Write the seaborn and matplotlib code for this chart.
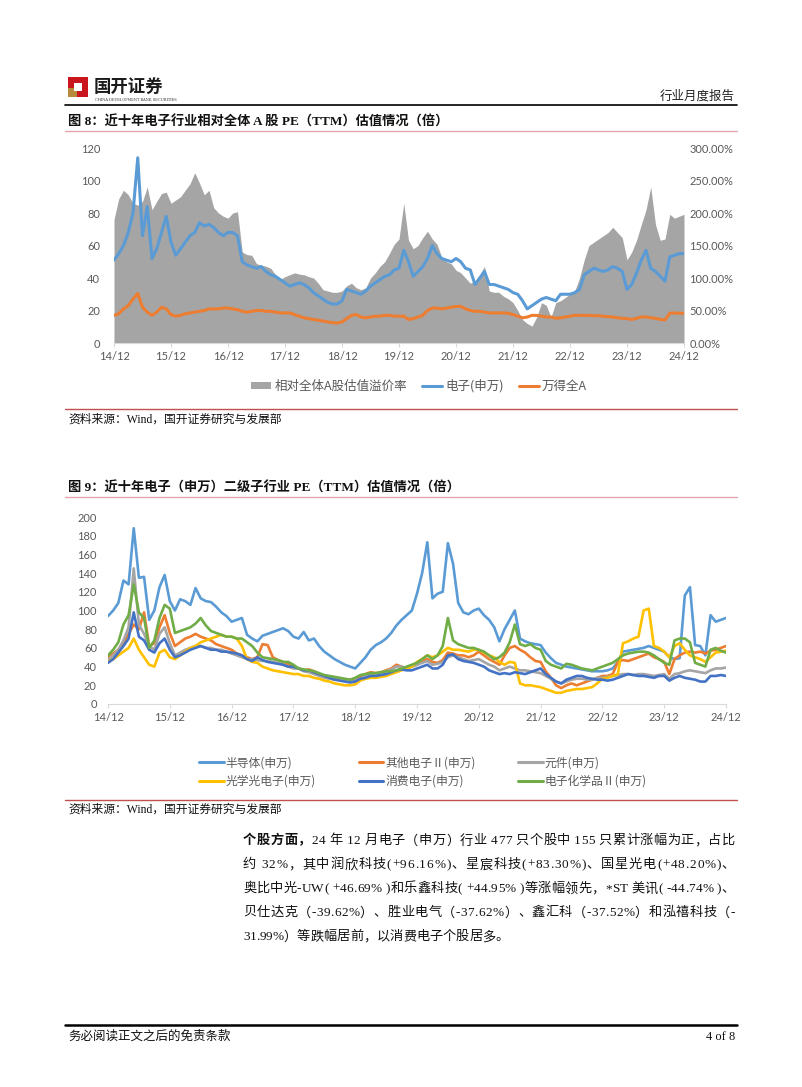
import numpy as np
import pandas as pd
import matplotlib
matplotlib.use("Agg")
import matplotlib.pyplot as plt
import seaborn as sns
from matplotlib.patches import Patch, Rectangle
from matplotlib.lines import Line2D
from matplotlib.font_manager import FontProperties

# ---------------- data (monthly, 2014-12 .. 2024-12) ----------------
x_tick_labels = ["14/12", "15/12", "16/12", "17/12", "18/12", "19/12",
                 "20/12", "21/12", "22/12", "23/12", "24/12"]

# Figure 8
electronic_pe = [51,
    55, 60, 68, 80, 114, 66, 84, 52, 58, 68, 78, 62,
    54, 58, 62, 66, 68, 74, 72, 73, 71, 68, 66, 68,
    68, 66, 50, 48, 47, 46, 47, 44, 42, 41, 39, 37,
    35, 36, 37, 36, 34, 31, 29, 27, 25, 24, 24, 26,
    33, 32, 31, 30, 32, 35, 37, 39, 41, 42, 45, 46,
    57, 50, 41, 44, 47, 52, 60, 55, 52, 51, 50, 52,
    50, 46, 45, 36, 40, 44, 36, 36, 35, 34, 33, 31,
    30, 26, 21, 23, 25, 27, 28, 27, 26, 30, 30, 30,
    31, 33, 42, 44, 46, 45, 44, 45, 47, 46, 44, 33,
    36, 43, 51, 57, 46, 44, 41, 38, 53, 54, 55, 55]

wind_all_a_pe = [17,
    18, 21, 23, 27, 30.5, 22, 19, 17, 19, 22, 21, 17.5,
    16.5, 17, 18, 18.5, 19, 19.5, 20, 21, 21, 21, 21.5, 21.5,
    21, 20.5, 19.5, 19, 19.5, 20, 20, 19.5, 19.5, 19, 18.5, 18.5,
    18.5, 17.5, 16.5, 15.5, 15, 14.5, 14, 13.5, 13, 12.5, 12.3, 13,
    15, 17, 17.5, 16, 15.5, 16, 16.5, 16.5, 17, 17, 16.5, 16.5,
    16.5, 14.5, 15, 16, 17, 20, 21.5, 21.5, 21, 21.5, 22, 22.5,
    22.5, 21, 20, 19.5, 19.5, 19, 18.5, 18.5, 18.5, 18.5, 18.3, 17.5,
    16.5, 15.5, 16, 17, 17, 16.5, 16, 16, 15.2, 15.5, 16, 16.5,
    17, 17, 17, 17, 16.8, 16.8, 16.5, 16.2, 16, 15.5, 15.2, 15,
    14.5, 15.2, 16, 16, 15.5, 15.2, 14.5, 14.2, 18.3, 18.5, 18.3, 18.3]

premium_pct = [190,
    222, 235, 228, 215, 212, 218, 240, 205, 218, 230, 232, 215,
    220, 225, 235, 245, 262, 246, 228, 235, 208, 200, 195, 192,
    200, 202, 140, 136, 135, 122, 120, 118, 115, 105, 98, 102,
    105, 108, 106, 105, 102, 100, 92, 82, 80, 78, 78, 80,
    88, 92, 85, 82, 85, 100, 108, 118, 125, 138, 152, 160,
    215, 158, 145, 150, 162, 172, 160, 152, 132, 125, 122, 112,
    108, 100, 92, 95, 105, 118, 80, 78, 78, 72, 68, 62,
    50, 36, 30, 26, 40, 62, 58, 40, 62, 65, 70, 75,
    80, 100, 128, 150, 155, 160, 165, 170, 178, 170, 162, 128,
    140, 158, 182, 205, 240, 182, 158, 160, 198, 192, 195, 198]

# Figure 9
semiconductor = [94,
    100, 108, 132, 128, 188, 135, 136, 90, 100, 125, 138, 110,
    100, 112, 110, 106, 124, 113, 110, 109, 104, 98, 94, 88,
    90, 92, 74, 70, 67, 73, 75, 77, 79, 81, 78, 72,
    70, 77, 68, 70, 62, 56, 52, 48, 45, 42, 40, 38,
    44, 50, 58, 63, 66, 70, 76, 84, 90, 95, 100, 118,
    140, 173, 113, 118, 120, 172, 150, 108, 98, 96, 100, 102,
    95, 90, 82, 67, 80, 90, 100, 70, 67, 65, 64, 63,
    55, 49, 44, 42, 40, 39, 38, 37, 36, 35, 35, 35,
    36, 38, 45, 56, 57, 58, 59, 60, 62, 60, 58, 56,
    50, 48, 49, 116, 125, 63, 62, 52, 95, 88, 90, 92]

other_electronics = [50,
    54, 58, 65, 75, 85, 80, 98, 62, 65, 82, 95, 76,
    62, 66, 70, 72, 75, 72, 70, 68, 64, 62, 60, 58,
    54, 52, 50, 48, 50, 64, 63, 50, 47, 45, 43, 41,
    38, 36, 37, 35, 32, 30, 29, 28, 27, 26, 26, 27,
    29, 32, 34, 33, 34, 36, 38, 42, 40, 38, 40, 42,
    46, 48, 45, 44, 47, 55, 54, 52, 52, 50, 52, 56,
    52, 48, 45, 42, 52, 60, 62, 58, 55, 50, 46, 45,
    35, 28, 20, 17, 20, 22, 20, 22, 24, 26, 28, 30,
    30, 32, 45, 47, 46, 48, 50, 52, 54, 50, 48, 45,
    32, 48, 52, 55, 56, 55, 56, 54, 57, 58, 60, 62]

components = [47,
    52, 58, 68, 82, 145, 85, 75, 62, 58, 75, 82, 65,
    52, 55, 58, 60, 62, 62, 60, 60, 58, 58, 56, 54,
    52, 50, 48, 48, 47, 46, 46, 45, 44, 42, 40, 38,
    38, 35, 34, 32, 30, 28, 27, 26, 26, 25, 24, 25,
    27, 30, 32, 32, 33, 35, 37, 40, 40, 38, 40, 42,
    44, 46, 42, 43, 45, 50, 52, 50, 48, 46, 47, 48,
    45, 42, 40, 36, 38, 40, 38, 36, 36, 35, 34, 33,
    30, 27, 24, 22, 24, 26, 27, 27, 26, 26, 28, 28,
    29, 30, 31, 32, 32, 31, 32, 32, 31, 30, 31, 32,
    27, 32, 33, 35, 36, 35, 34, 33, 36, 38, 38, 39]

optoelectronics = [45,
    48, 52, 56, 60, 70, 58, 50, 42, 40, 55, 58, 50,
    48, 52, 56, 60, 62, 66, 68, 70, 72, 74, 72, 72,
    70, 62, 48, 45, 44, 40, 38, 36, 35, 34, 33, 32,
    32, 30, 30, 28, 27, 25, 24, 22, 21, 20, 20, 21,
    25, 27, 28, 28, 29, 30, 32, 34, 36, 38, 40, 45,
    48, 52, 50, 52, 56, 60, 58, 58, 57, 56, 58, 58,
    55, 52, 50, 45, 42, 45, 44, 22, 20, 20, 19, 18,
    16, 14, 12, 12, 14, 15, 16, 16, 17, 18, 22, 27,
    28, 30, 32, 65, 67, 70, 72, 100, 102, 62, 60, 56,
    50, 62, 65, 58, 52, 50, 48, 45, 50, 55, 56, 57]

consumer_electronics = [44,
    48, 55, 62, 70, 98, 72, 68, 58, 55, 65, 70, 58,
    50, 52, 55, 58, 60, 62, 60, 58, 58, 56, 56, 55,
    54, 52, 48, 46, 50, 47, 45, 44, 43, 42, 40, 40,
    38, 36, 36, 34, 32, 30, 28, 26, 25, 24, 23, 24,
    27, 28, 30, 30, 31, 32, 34, 36, 37, 36, 36, 38,
    40, 42, 38, 38, 42, 52, 53, 48, 46, 45, 44, 42,
    40, 36, 34, 32, 33, 32, 34, 33, 32, 34, 36, 38,
    32, 28, 24, 22, 26, 28, 30, 30, 28, 27, 26, 26,
    25, 26, 28, 30, 32, 31, 30, 30, 29, 28, 30, 30,
    25, 28, 30, 28, 27, 26, 24, 24, 30, 30, 31, 30]

electronic_chemicals = [52,
    58, 66, 85, 95, 128, 98, 92, 60, 68, 92, 106, 102,
    76, 78, 80, 82, 86, 92, 84, 78, 76, 74, 72, 72,
    70, 70, 66, 62, 55, 50, 49, 48, 47, 45, 45, 42,
    38, 37, 36, 35, 33, 31, 30, 29, 28, 27, 26, 28,
    31, 32, 33, 33, 34, 35, 35, 36, 38, 40, 42, 44,
    48, 52, 48, 52, 62, 92, 68, 64, 62, 60, 60, 58,
    56, 52, 48, 50, 55, 66, 85, 64, 62, 64, 60, 58,
    46, 42, 40, 38, 43, 42, 40, 38, 37, 36, 38, 40,
    42, 44, 48, 52, 54, 55, 56, 56, 55, 52, 48, 44,
    42, 68, 70, 70, 66, 44, 42, 40, 58, 60, 57, 55]

sub_names = ["半导体(申万)", "其他电子Ⅱ(申万)", "元件(申万)",
             "光学光电子(申万)", "消费电子(申万)", "电子化学品Ⅱ(申万)"]
sub_series = [semiconductor, other_electronics, components,
              optoelectronics, consumer_electronics, electronic_chemicals]
sub_colors = ["#5B9BD5", "#ED7D31", "#A5A5A5", "#FFC000", "#4472C4", "#70AD47"]

for s in [electronic_pe, wind_all_a_pe, premium_pct] + sub_series:
    assert len(s) == 121, len(s)

months = list(range(121))

# ---------------- figure setup ----------------
sns.set_theme(style="white")
plt.rcParams["font.family"] = ["Lato", "Noto Sans CJK SC", "DejaVu Sans"]
plt.rcParams["axes.unicode_minus"] = False

W, H = 802, 1087
fig = plt.figure(figsize=(W / 100, H / 100), dpi=100)
fig.patch.set_facecolor("white")


def fx(p):
    return p / W


def fy(p):
    return 1 - p / H


CJK = ["Noto Sans CJK SC", "DejaVu Sans"]
BODY = ["Liberation Serif", "Noto Sans CJK SC"]
TICK_C = "#595959"


def hline(y, x0=65, x1=737, color="black", lw=1.0):
    fig.add_artist(Line2D([fx(x0), fx(x1)], [fy(y), fy(y)],
                          transform=fig.transFigure, color=color, lw=lw))


def style_axis(ax, ymax, ystep):
    ax.set_xlim(0, 120)
    ax.set_ylim(0, ymax)
    ax.set_xticks(range(0, 121, 12))
    ax.set_xticklabels(x_tick_labels)
    ax.set_yticks(np.arange(0, ymax + 1, ystep))
    for s in ["top", "right", "left"]:
        ax.spines[s].set_visible(False)
    ax.spines["bottom"].set_color("#D9D9D9")
    ax.spines["bottom"].set_linewidth(0.8)
    ax.tick_params(axis="x", bottom=True, length=3, width=0.8, color="#D9D9D9",
                   labelsize=8, labelcolor=TICK_C, pad=3)
    ax.tick_params(axis="y", left=False, length=0, labelsize=8,
                   labelcolor=TICK_C, pad=8)
    ax.grid(False)
    ax.set_xlabel("")
    ax.set_ylabel("")


# ---------------- header ----------------
fig.add_artist(Rectangle((fx(68), fy(97)), 20 / W, 20 / H, transform=fig.transFigure,
                         facecolor="#C9151E", edgecolor="none"))
fig.add_artist(Rectangle((fx(68), fy(97)), 9 / W, 9 / H, transform=fig.transFigure,
                         facecolor="#B88A3C", edgecolor="none"))
fig.add_artist(Rectangle((fx(74), fy(91)), 8 / W, 8 / H, transform=fig.transFigure,
                         facecolor="white", edgecolor="none"))
fig.text(fx(94), fy(87), "国开证券", family=CJK, fontsize=12.5, fontweight="bold",
         color="#1a1a1a", va="center", ha="left")
fig.text(fx(95), fy(100), "CHINA DEVELOPMENT BANK SECURITIES", family=["DejaVu Serif"],
         fontsize=2.6, color="#333333", va="center", ha="left")
fig.text(fx(735), fy(96), "行业月度报告", family=CJK, fontsize=9, color="#222222",
         va="center", ha="right")
hline(105, lw=1.2)

# ---------------- Figure 8 ----------------
fig.text(fx(68), fy(122), "图 8：近十年电子行业相对全体 A 股 PE（TTM）估值情况（倍）",
         family=BODY, fontsize=9.5, fontweight="bold", color="#111111", va="center")
hline(131, color="#E3A6AC", lw=1.0)

ax1 = fig.add_axes([fx(114), fy(343), 570 / W, 195 / H])
ax1r = ax1.twinx()
ax1r.fill_between(months, 0, premium_pct, color="#A5A5A5", lw=0)
ax1r.set_ylim(0, 300)
ax1r.set_yticks(range(0, 301, 50))
ax1r.set_yticklabels([f"{v:.2f}%" for v in range(0, 301, 50)])
for s in ax1r.spines.values():
    s.set_visible(False)
ax1r.tick_params(axis="y", right=False, length=0, labelsize=8, labelcolor=TICK_C, pad=4)
ax1r.grid(False)
ax1r.set_ylabel("")

df1 = pd.DataFrame({"m": months, "电子(申万)": electronic_pe, "万得全A": wind_all_a_pe})
sns.lineplot(data=df1, x="m", y="电子(申万)", color="#5B9BD5", lw=2.2, ax=ax1)
sns.lineplot(data=df1, x="m", y="万得全A", color="#ED7D31", lw=2.2, ax=ax1)
ax1.set_zorder(ax1r.get_zorder() + 1)
ax1.patch.set_visible(False)
style_axis(ax1, 120, 20)
ax1.tick_params(axis="y", pad=10)

h1 = [Patch(facecolor="#A5A5A5", edgecolor="none"),
      Line2D([], [], color="#5B9BD5", lw=2.2),
      Line2D([], [], color="#ED7D31", lw=2.2)]
fig.legend(h1, ["相对全体A股估值溢价率", "电子(申万)", "万得全A"], loc="center",
           bbox_to_anchor=(fx(419), fy(386)), ncol=3, frameon=False,
           prop=FontProperties(family=CJK, size=9), labelcolor=TICK_C,
           handlelength=1.6, handleheight=0.55, handletextpad=0.25, columnspacing=1.2)

hline(409, color="#C0504D", lw=1.0)
fig.text(fx(68), fy(420), "资料来源：Wind，国开证券研究与发展部", family=BODY,
         fontsize=8.5, color="#111111", va="center")

# ---------------- Figure 9 ----------------
fig.text(fx(68), fy(488), "图 9：近十年电子（申万）二级子行业 PE（TTM）估值情况（倍）",
         family=BODY, fontsize=9.5, fontweight="bold", color="#111111", va="center")
hline(497, color="#E3A6AC", lw=1.0)

ax2 = fig.add_axes([fx(108), fy(704), 618 / W, 187 / H])
df2 = pd.DataFrame({"m": months})
for n, s in zip(sub_names, sub_series):
    df2[n] = s
long2 = df2.melt(id_vars="m", var_name="行业", value_name="PE")
sns.lineplot(data=long2, x="m", y="PE", hue="行业", hue_order=sub_names,
             palette=sub_colors, lw=1.9, legend=False, ax=ax2)
style_axis(ax2, 200, 20)

order = [0, 3, 1, 4, 2, 5]
h2 = [Line2D([], [], color=sub_colors[i], lw=2.2) for i in order]
fig.legend(h2, [sub_names[i] for i in order], loc="center",
           bbox_to_anchor=(fx(423), fy(772)), ncol=3, frameon=False,
           prop=FontProperties(family=CJK, size=8.5), labelcolor=TICK_C,
           handlelength=2.1, handletextpad=0.15, columnspacing=3.6, labelspacing=0.45)

hline(800, color="#C0504D", lw=1.0)
fig.text(fx(68), fy(810), "资料来源：Wind，国开证券研究与发展部", family=BODY,
         fontsize=8.5, color="#111111", va="center")

# ---------------- paragraph (justified) ----------------
renderer = fig.canvas.get_renderer()
_cache = {}


def adv(ch, wgt, size):
    key = (ch, wgt, size)
    if key not in _cache:
        def w(s):
            t = fig.text(0, 0, s, fontsize=size, fontweight=wgt, family=BODY)
            v = t.get_window_extent(renderer).width
            t.remove()
            return v
        _cache[key] = w("国" + ch + "国") - w("国国")
    return _cache[key]


def put_line(segs, y, x0=243, x1=735, size=9.5, justify=True):
    items = []
    for s, wgt in segs:
        for ch in s:
            if ch == " ":
                items.append((None, size * 0.25 * 100 / 72))
            else:
                items.append(((ch, wgt), adv(ch, wgt, size)))
    total = sum(w for _, w in items)
    gap = (x1 - x0 - total) / (len(items) - 1) if justify else 0
    x = x0
    for it, w in items:
        if it is not None:
            fig.text(fx(x), fy(y), it[0], fontsize=size, fontweight=it[1],
                     family=BODY, color="#111111", va="center", ha="left")
        x += w + gap


lines = [
    ([("个股方面，", "bold"),
      ("24 年 12 月电子（申万）行业 477 只个股中 155 只累计涨幅为正，占比", "normal")], True),
    ([("约 32%，其中润欣科技(+96.16%)、星宸科技(+83.30%)、国星光电(+48.20%)、", "normal")], True),
    ([("奥比中光-UW( +46.69% )和乐鑫科技( +44.95% )等涨幅领先，*ST 美讯( -44.74% )、", "normal")], True),
    ([("贝仕达克（-39.62%）、胜业电气（-37.62%）、鑫汇科（-37.52%）和泓禧科技（-", "normal")], True),
    ([("31.99%）等跌幅居前，以消费电子个股居多。", "normal")], False),
]
for i, (segs, just) in enumerate(lines):
    put_line(segs, 841 + 24 * i, justify=just)

# ---------------- footer ----------------
hline(1025, lw=1.8)
fig.text(fx(68), fy(1037), "务必阅读正文之后的免责条款", family=BODY, fontsize=9,
         color="#111111", va="center")
fig.text(fx(735), fy(1037), "4 of 8", family=["Liberation Serif"], fontsize=9,
         color="#111111", va="center", ha="right")

fig.savefig("out.png", dpi=100, facecolor="white")
